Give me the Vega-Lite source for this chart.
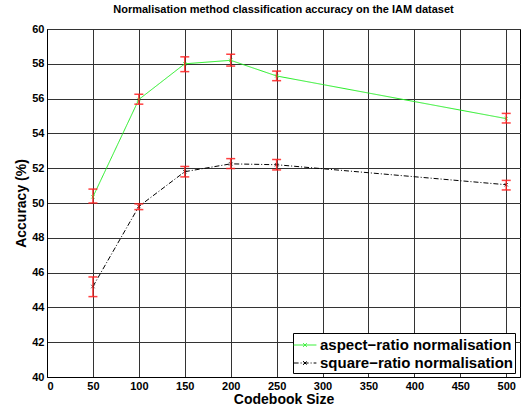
{
  "$schema": "https://vega.github.io/schema/vega-lite/v6.json",
  "width": 473,
  "height": 348,
  "autosize": "none",
  "padding": {"left": 47, "top": 29, "right": 2, "bottom": 30},
  "title": {
    "text": "Normalisation method classification accuracy on the IAM dataset",
    "font": "Liberation Sans",
    "fontSize": 11,
    "fontWeight": "bold",
    "offset": 8,
    "anchor": "middle",
    "color": "black"
  },
  "config": {
    "view": {"stroke": "black", "strokeWidth": 1},
    "axis": {
      "labelFont": "Liberation Sans",
      "labelFontSize": 11,
      "labelFontWeight": "bold",
      "labelColor": "black",
      "titleFont": "Liberation Sans",
      "titleFontSize": 14,
      "titleFontWeight": "bold",
      "titleColor": "black",
      "domainColor": "black",
      "grid": true,
      "gridColor": "#333333",
      "gridWidth": 1,
      "ticks": false,
      "labelOverlap": false
    }
  },
  "data": {
    "values": [
      {"series": "aspect−ratio normalisation", "x": 50, "y": 50.35, "lo": 50.0, "hi": 50.8},
      {"series": "aspect−ratio normalisation", "x": 100, "y": 55.95, "lo": 55.68, "hi": 56.25},
      {"series": "aspect−ratio normalisation", "x": 150, "y": 58.0, "lo": 57.55, "hi": 58.4},
      {"series": "aspect−ratio normalisation", "x": 200, "y": 58.2, "lo": 57.87, "hi": 58.55},
      {"series": "aspect−ratio normalisation", "x": 250, "y": 57.3, "lo": 57.03, "hi": 57.58},
      {"series": "aspect−ratio normalisation", "x": 500, "y": 54.85, "lo": 54.6, "hi": 55.15},
      {"series": "square−ratio normalisation", "x": 50, "y": 45.2, "lo": 44.62, "hi": 45.75},
      {"series": "square−ratio normalisation", "x": 100, "y": 49.8, "lo": 49.62, "hi": 49.95},
      {"series": "square−ratio normalisation", "x": 150, "y": 51.8, "lo": 51.5, "hi": 52.1},
      {"series": "square−ratio normalisation", "x": 200, "y": 52.25, "lo": 51.98, "hi": 52.55},
      {"series": "square−ratio normalisation", "x": 250, "y": 52.2, "lo": 51.9, "hi": 52.5},
      {"series": "square−ratio normalisation", "x": 500, "y": 51.05, "lo": 50.75, "hi": 51.3}
    ]
  },
  "encoding": {
    "x": {
      "field": "x",
      "type": "quantitative",
      "scale": {"domain": [0, 515], "nice": false},
      "axis": {
        "values": [0, 50, 100, 150, 200, 250, 300, 350, 400, 450, 500],
        "title": "Codebook Size",
        "labelPadding": 3,
        "titlePadding": 1
      }
    }
  },
  "layer": [
    {
      "mark": {"type": "line", "strokeWidth": 1},
      "encoding": {
        "y": {
          "field": "y",
          "type": "quantitative",
          "scale": {"domain": [40, 60], "nice": false},
          "axis": {
            "values": [40, 42, 44, 46, 48, 50, 52, 54, 56, 58, 60],
            "title": "Accuracy (%)",
            "labelPadding": 3,
            "titlePadding": 3
          }
        },
        "color": {
          "field": "series",
          "type": "nominal",
          "scale": {
            "domain": ["aspect−ratio normalisation", "square−ratio normalisation"],
            "range": ["#22ee22", "#000000"]
          },
          "legend": {
            "title": null,
            "orient": "none",
            "legendX": 246,
            "legendY": 304,
            "padding": 2,
            "rowPadding": 0,
            "strokeColor": "black",
            "fillColor": "white",
            "labelFont": "Liberation Sans",
            "labelFontSize": 15,
            "labelFontWeight": "bold",
            "labelColor": "black",
            "labelOffset": 5,
            "symbolType": "M-1.2,0L1.2,0M-0.2,-0.2L0.2,0.2M-0.2,0.2L0.2,-0.2",
            "symbolSize": 361,
            "symbolStrokeWidth": 1,
            "symbolFillColor": "transparent",
            "labelLimit": 300
          }
        },
        "strokeDash": {
          "field": "series",
          "type": "nominal",
          "scale": {
            "domain": ["aspect−ratio normalisation", "square−ratio normalisation"],
            "range": [[1, 0], [5, 2, 1, 2]]
          }
        }
      }
    },
    {
      "mark": {
        "type": "point",
        "shape": "M-1,-1L1,1M-1,1L1,-1",
        "filled": false,
        "size": 12,
        "strokeWidth": 1
      },
      "encoding": {
        "y": {
          "field": "y",
          "type": "quantitative",
          "axis": {
            "values": [40, 42, 44, 46, 48, 50, 52, 54, 56, 58, 60],
            "title": "Accuracy (%)",
            "labelPadding": 3,
            "titlePadding": 3
          }
        },
        "stroke": {
          "field": "series",
          "type": "nominal",
          "scale": {
            "domain": ["aspect−ratio normalisation", "square−ratio normalisation"],
            "range": ["#22ee22", "#000000"]
          },
          "legend": null
        }
      }
    },
    {
      "mark": {"type": "rule", "color": "#ff2020", "strokeWidth": 1.5, "opacity": 0.85},
      "encoding": {
        "y": {
          "field": "lo",
          "type": "quantitative",
          "axis": {
            "values": [40, 42, 44, 46, 48, 50, 52, 54, 56, 58, 60],
            "title": "Accuracy (%)",
            "labelPadding": 3,
            "titlePadding": 3
          }
        },
        "y2": {"field": "hi"}
      }
    },
    {
      "mark": {"type": "tick", "orient": "horizontal", "color": "#ff2020", "size": 9, "thickness": 1.5, "opacity": 0.85},
      "encoding": {
        "y": {
          "field": "lo",
          "type": "quantitative",
          "axis": {
            "values": [40, 42, 44, 46, 48, 50, 52, 54, 56, 58, 60],
            "title": "Accuracy (%)",
            "labelPadding": 3,
            "titlePadding": 3
          }
        }
      }
    },
    {
      "mark": {"type": "tick", "orient": "horizontal", "color": "#ff2020", "size": 9, "thickness": 1.5, "opacity": 0.85},
      "encoding": {
        "y": {
          "field": "hi",
          "type": "quantitative",
          "axis": {
            "values": [40, 42, 44, 46, 48, 50, 52, 54, 56, 58, 60],
            "title": "Accuracy (%)",
            "labelPadding": 3,
            "titlePadding": 3
          }
        }
      }
    }
  ]
}
